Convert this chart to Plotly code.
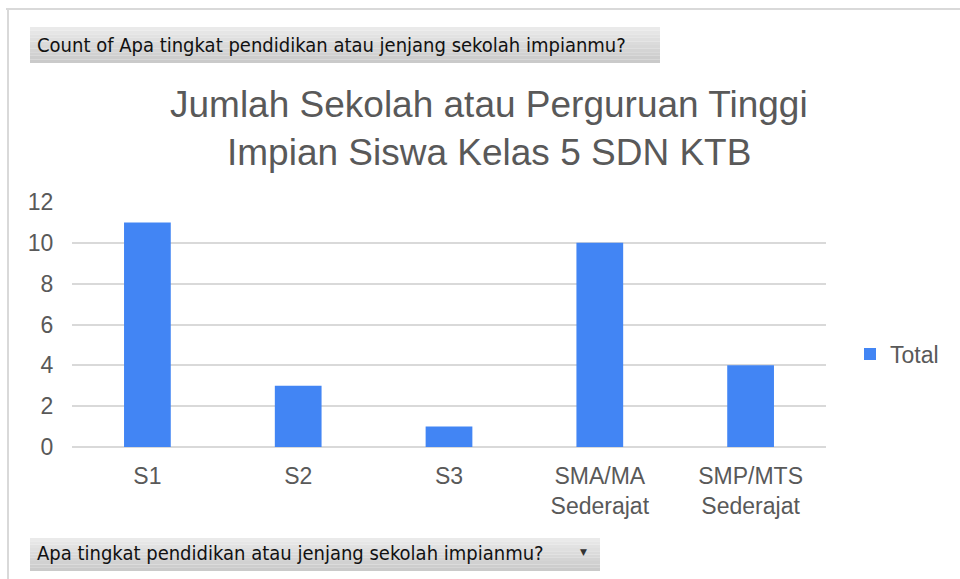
import plotly.graph_objects as go

categories = ["S1", "S2", "S3", "SMA/MA<br>Sederajat", "SMP/MTS<br>Sederajat"]
totals = [11, 3, 1, 10, 4]
y_ticks = [0, 2, 4, 6, 8, 10, 12]
series_name = "Total"
title_lines = ["Jumlah Sekolah atau Perguruan Tinggi", "Impian Siswa Kelas 5 SDN KTB"]
top_button_text = "Count of Apa tingkat pendidikan atau jenjang sekolah impianmu?"
bottom_button_text = "Apa tingkat pendidikan atau jenjang sekolah impianmu?"

W, H = 960, 579
PL, PR, PT, PB = 72, 826, 202, 447

def px(x):
    return (x - PL) / (PR - PL)

def py(y):
    return (PB - y) / (PB - PT)

fig = go.Figure()
fig.add_trace(go.Bar(x=categories, y=totals, name=series_name,
                     marker=dict(color="#4285f4", line=dict(width=0)),
                     width=0.31, showlegend=True))

shapes = []
# frame lines
shapes.append(dict(type="line", xref="paper", yref="paper", x0=px(6), x1=px(960), y0=py(9), y1=py(9),
                   line=dict(color="#d9d9d9", width=2), layer="below"))
shapes.append(dict(type="line", xref="paper", yref="paper", x0=px(8), x1=px(8), y0=py(9), y1=py(579),
                   line=dict(color="#d9d9d9", width=2), layer="below"))

def button(x0, x1, y0, y1):
    n = 10
    top = (234, 234, 234)
    bot = (202, 202, 202)
    for i in range(n):
        t = i / (n - 1)
        c = tuple(int(top[k] + (bot[k] - top[k]) * t) for k in range(3))
        ya = y0 + (y1 - y0) * i / n
        yb = y0 + (y1 - y0) * (i + 1) / n
        shapes.append(dict(type="rect", xref="paper", yref="paper", x0=px(x0), x1=px(x1),
                           y0=py(ya), y1=py(yb), fillcolor="rgb(%d,%d,%d)" % c,
                           line=dict(width=0), layer="below"))

button(30, 660, 27, 63)
button(30, 600, 538, 571)

annotations = []
annotations.append(dict(text=top_button_text, xref="paper", yref="paper", x=px(35), y=py(45),
                        xanchor="left", yanchor="middle", showarrow=False,
                        font=dict(family="DejaVu Sans Condensed", size=20, color="#111111")))
annotations.append(dict(text=bottom_button_text, xref="paper", yref="paper", x=px(35), y=py(553),
                        xanchor="left", yanchor="middle", showarrow=False,
                        font=dict(family="DejaVu Sans Condensed", size=20, color="#111111")))
annotations.append(dict(text="\u25bc", xref="paper", yref="paper", x=px(583), y=py(552),
                        xanchor="center", yanchor="middle", showarrow=False,
                        font=dict(family="DejaVu Sans", size=9, color="#333333")))
for i, line in enumerate(title_lines):
    annotations.append(dict(text=line, xref="paper", yref="paper", x=px(489), y=py(105 + 47 * i),
                            xanchor="center", yanchor="middle", showarrow=False,
                            font=dict(family="Liberation Sans", size=37, color="#595959")))

fig.update_layout(
    width=W, height=H,
    margin=dict(l=PL, r=W - PR, t=PT, b=H - PB, pad=0),
    paper_bgcolor="white", plot_bgcolor="white",
    font=dict(family="Liberation Sans", size=23, color="#595959"),
    shapes=shapes, annotations=annotations,
    bargap=0.69,
    showlegend=True,
    legend=dict(x=px(850), y=py(354), xanchor="left", yanchor="middle",
                font=dict(size=23, color="#595959"), bgcolor="rgba(0,0,0,0)",
                itemwidth=30),
    xaxis=dict(showgrid=False, showline=False, ticks="outside", ticklen=8,
               tickcolor="rgba(0,0,0,0)", tickfont=dict(size=23, color="#595959"),
               fixedrange=True),
    yaxis=dict(range=[0, 12], tickvals=y_ticks, showgrid=True, gridcolor="#d9d9d9", gridwidth=1.5,
               zeroline=True, zerolinecolor="#d9d9d9", zerolinewidth=1.5, showline=False,
               ticks="outside", ticklen=13, tickcolor="rgba(0,0,0,0)",
               tickfont=dict(size=23, color="#595959"), fixedrange=True),
)

fig.write_html("out.html")
